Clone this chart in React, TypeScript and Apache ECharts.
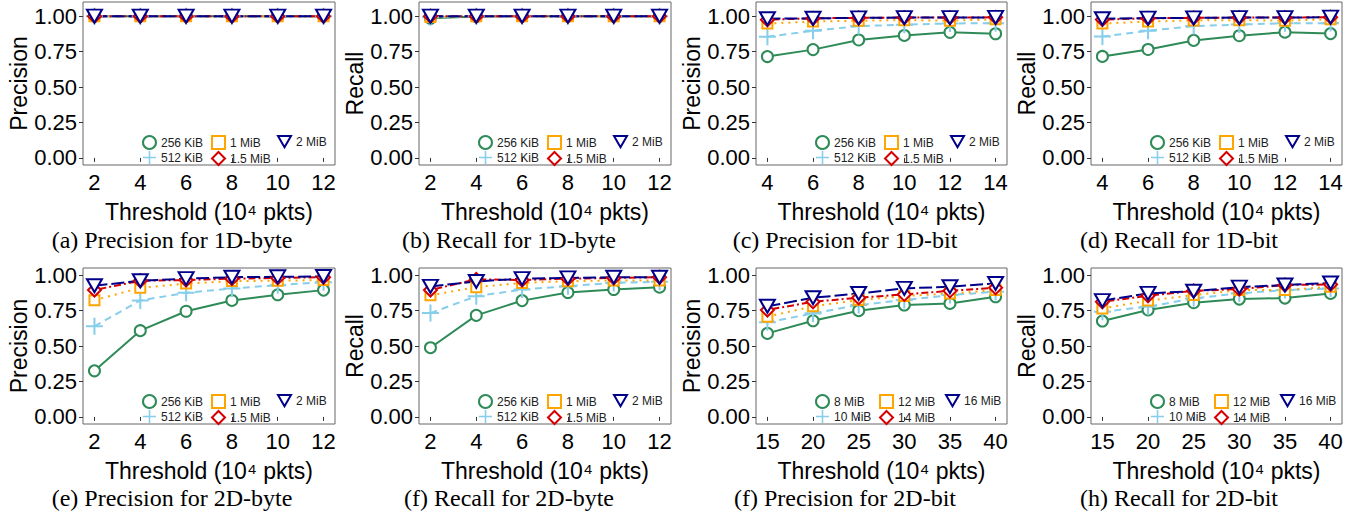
import React, { useEffect, useRef } from "react";
import * as echarts from "echarts";

// ---------- data ----------
const xByte = [2, 4, 6, 8, 10, 12];
const xBit1D = [4, 6, 8, 10, 12, 14];
const xBit2D = [15, 20, 25, 30, 35, 40];
const yTicks = [0, 0.25, 0.5, 0.75, 1];

const sizesByte = ["256 KiB", "512 KiB", "1 MiB", "1.5 MiB", "2 MiB"];
const sizes2D = ["8 MiB", "10 MiB", "12 MiB", "14 MiB", "16 MiB"];

// rows: one per memory size (same order as the size lists)
const precision1DByte = [
  [1, 1, 1, 1, 1, 1],
  [1, 1, 1, 1, 1, 1],
  [1, 1, 1, 1, 1, 1],
  [1, 1, 1, 1, 1, 1],
  [1, 1, 1, 1, 1, 1],
];
const recall1DByte = [
  [0.985, 0.997, 1, 1, 1, 1],
  [0.993, 1, 1, 1, 1, 1],
  [0.995, 1, 1, 1, 1, 1],
  [1, 1, 1, 1, 1, 1],
  [1, 1, 1, 1, 1, 1],
];
const precision1DBit = [
  [0.715, 0.764, 0.832, 0.864, 0.886, 0.876],
  [0.855, 0.897, 0.93, 0.94, 0.949, 0.95],
  [0.948, 0.962, 0.968, 0.972, 0.968, 0.978],
  [0.975, 0.985, 0.988, 0.99, 0.99, 0.992],
  [0.982, 0.985, 0.988, 0.99, 0.99, 0.992],
];
const recall1DBit = [
  [0.716, 0.765, 0.829, 0.862, 0.887, 0.877],
  [0.856, 0.897, 0.93, 0.941, 0.95, 0.951],
  [0.948, 0.962, 0.97, 0.972, 0.968, 0.978],
  [0.976, 0.985, 0.988, 0.99, 0.99, 0.993],
  [0.982, 0.986, 0.988, 0.99, 0.99, 0.993],
];
const precision2DByte = [
  [0.325, 0.608, 0.745, 0.821, 0.861, 0.894],
  [0.639, 0.821, 0.875, 0.906, 0.929, 0.95],
  [0.823, 0.91, 0.94, 0.958, 0.96, 0.965],
  [0.895, 0.96, 0.965, 0.975, 0.98, 0.985],
  [0.925, 0.96, 0.975, 0.985, 0.988, 0.99],
];
const recall2DByte = [
  [0.488, 0.716, 0.82, 0.877, 0.898, 0.915],
  [0.732, 0.851, 0.898, 0.922, 0.945, 0.953],
  [0.858, 0.915, 0.945, 0.957, 0.962, 0.962],
  [0.895, 0.97, 0.965, 0.975, 0.98, 0.985],
  [0.92, 0.955, 0.975, 0.98, 0.985, 0.985],
];
const precision2DBit = [
  [0.589, 0.678, 0.749, 0.789, 0.8, 0.847],
  [0.667, 0.73, 0.789, 0.824, 0.859, 0.883],
  [0.707, 0.78, 0.824, 0.852, 0.87, 0.894],
  [0.754, 0.812, 0.84, 0.864, 0.889, 0.911],
  [0.78, 0.84, 0.87, 0.906, 0.918, 0.941],
];
const recall2DBit = [
  [0.676, 0.754, 0.805, 0.831, 0.838, 0.871],
  [0.742, 0.777, 0.836, 0.871, 0.894, 0.906],
  [0.765, 0.82, 0.859, 0.894, 0.894, 0.918],
  [0.812, 0.854, 0.889, 0.901, 0.93, 0.934],
  [0.82, 0.871, 0.886, 0.915, 0.93, 0.944],
];

const xTitle = "Threshold (10\u2074 pkts)";

const panels = [
  { x: xByte, min: 1.5, max: 12.5, names: sizesByte, values: precision1DByte, yName: "Precision", caption: "(a) Precision for 1D-byte", col: 0, row: 0 },
  { x: xByte, min: 1.5, max: 12.5, names: sizesByte, values: recall1DByte, yName: "Recall", caption: "(b) Recall for 1D-byte", col: 1, row: 0 },
  { x: xBit1D, min: 3.5, max: 14.5, names: sizesByte, values: precision1DBit, yName: "Precision", caption: "(c) Precision for 1D-bit", col: 2, row: 0 },
  { x: xBit1D, min: 3.5, max: 14.5, names: sizesByte, values: recall1DBit, yName: "Recall", caption: "(d) Recall for 1D-bit", col: 3, row: 0 },
  { x: xByte, min: 1.5, max: 12.5, names: sizesByte, values: precision2DByte, yName: "Precision", caption: "(e) Precision for 2D-byte", col: 0, row: 1 },
  { x: xByte, min: 1.5, max: 12.5, names: sizesByte, values: recall2DByte, yName: "Recall", caption: "(f) Recall for 2D-byte", col: 1, row: 1 },
  { x: xBit2D, min: 13.75, max: 41.25, names: sizes2D, values: precision2DBit, yName: "Precision", caption: "(f) Precision for 2D-bit", col: 2, row: 1 },
  { x: xBit2D, min: 13.75, max: 41.25, names: sizes2D, values: recall2DBit, yName: "Recall", caption: "(h) Recall for 2D-bit", col: 3, row: 1 },
];

// ---------- styles / layout ----------
const COLORS = ["#2E8B57", "#87CEEB", "#FFA500", "#D40000", "#00008B"];
const DASHES: any[] = ["solid", [7, 5], [2, 5], [2, 3, 7, 3], [13, 4]];
const CROSS = "path://M8.8,0H11.2V8.8H20V11.2H11.2V20H8.8V11.2H0V8.8H8.8Z";
const TRI_DOWN = "path://M0,0L20,0L10,17.3Z";
const SYMBOLS = ["circle", CROSS, "rect", "diamond", TRI_DOWN];
const SYMBOL_SIZES: any[] = [11, 17, 10, 13, [15, 13]];

const COL_LEFT = [83, 419, 756, 1091];
const COL_WIDTH = [252, 252, 251, 251];
const ROW_TOP = [2, 268];
const ROW_HEIGHT = [163, 156];
const Y_MAX = [1.1, 1.05];
const CAPTION_X = [172, 509, 845, 1179];
const CAPTION_Y = [240, 498];
// legend column offsets (from plot left) and which sizes each column holds
const LEGEND_COLS = [[0, 1], [2, 3], [4]];
const LEGEND_OFFSETS_BYTE = [59, 128, 194];
const LEGEND_OFFSETS_2D = [59, 123, 189];

const SANS = "Liberation Sans, Arial, Helvetica, sans-serif";
const SERIF = "Liberation Serif, Times New Roman, serif";

function itemStyleFor(k: number) {
  if (k === 1) return { color: COLORS[k], borderWidth: 0 };
  return { color: "#ffffff", borderColor: COLORS[k], borderWidth: 2 };
}

function buildOption() {
  const grid: any[] = [];
  const xAxis: any[] = [];
  const yAxis: any[] = [];
  const series: any[] = [];
  const legend: any[] = [];
  const graphic: any[] = [];

  panels.forEach((p, i) => {
    const left = COL_LEFT[p.col];
    const top = ROW_TOP[p.row];
    const height = ROW_HEIGHT[p.row];
    const bottomY = top + height;
    grid.push({
      left,
      top,
      width: COL_WIDTH[p.col],
      height,
      show: true,
      borderColor: "#666",
      borderWidth: 1,
      backgroundColor: "transparent",
      containLabel: false,
    });
    xAxis.push({
      type: "value",
      gridIndex: i,
      min: p.min,
      max: p.max,
      name: xTitle,
      nameLocation: "middle",
      nameGap: 35,
      nameTextStyle: { fontSize: 23, color: "#000", fontFamily: SANS },
      axisLine: { show: false },
      axisTick: { show: true, length: 4, lineStyle: { color: "#333" }, customValues: p.x },
      axisLabel: { fontSize: 22, color: "#000", fontFamily: SANS, margin: 6, customValues: p.x },
      splitLine: { show: false },
    });
    yAxis.push({
      type: "value",
      gridIndex: i,
      min: -0.05,
      max: Y_MAX[p.row],
      name: p.yName,
      nameLocation: "middle",
      nameGap: 53,
      nameTextStyle: { fontSize: 23, color: "#000", fontFamily: SANS },
      axisLine: { show: false },
      axisTick: { show: true, length: 4, lineStyle: { color: "#333" }, customValues: yTicks },
      axisLabel: {
        fontSize: 22,
        color: "#000",
        fontFamily: SANS,
        margin: 6,
        customValues: yTicks,
        formatter: (v: number) => v.toFixed(2),
      },
      splitLine: { show: false },
    });

    p.names.forEach((name, k) => {
      series.push({
        type: "line",
        name,
        xAxisIndex: i,
        yAxisIndex: i,
        data: p.x.map((xv, j) => [xv, p.values[k][j]]),
        symbol: SYMBOLS[k],
        symbolSize: SYMBOL_SIZES[k],
        showAllSymbol: true,
        itemStyle: itemStyleFor(k),
        lineStyle: { color: COLORS[k], width: 2, type: DASHES[k] },
        emphasis: { disabled: true },
        silent: true,
      });
    });

    const offsets = p.names === sizes2D ? LEGEND_OFFSETS_2D : LEGEND_OFFSETS_BYTE;
    LEGEND_COLS.forEach((ks, c) => {
      legend.push({
        orient: "vertical",
        left: left + offsets[c],
        top: bottomY - 30,
        itemWidth: 13,
        itemHeight: 13,
        itemGap: 1,
        padding: 0,
        selectedMode: false,
        textStyle: { fontSize: 12, color: "#222", fontFamily: SANS },
        data: ks.map((k) => ({ name: p.names[k], icon: SYMBOLS[k], itemStyle: itemStyleFor(k) })),
      });
    });

    graphic.push({
      type: "text",
      x: CAPTION_X[p.col],
      y: CAPTION_Y[p.row],
      style: {
        text: p.caption,
        fontSize: 24,
        fontFamily: SERIF,
        fill: "#000",
        textAlign: "center",
        textVerticalAlign: "middle",
      },
    });
  });

  return {
    animation: false,
    backgroundColor: "#ffffff",
    grid,
    xAxis,
    yAxis,
    series,
    legend,
    graphic,
  };
}

export default function App() {
  const ref = useRef<HTMLDivElement>(null);
  useEffect(() => {
    if (!ref.current) return;
    const chart = echarts.init(ref.current, undefined, { renderer: "svg" });
    chart.setOption(buildOption() as any);
    return () => chart.dispose();
  }, []);
  return (
    <div
      ref={ref}
      style={{ position: "fixed", left: 0, top: 0, width: 1354, height: 517, background: "#fff" }}
    />
  );
}
